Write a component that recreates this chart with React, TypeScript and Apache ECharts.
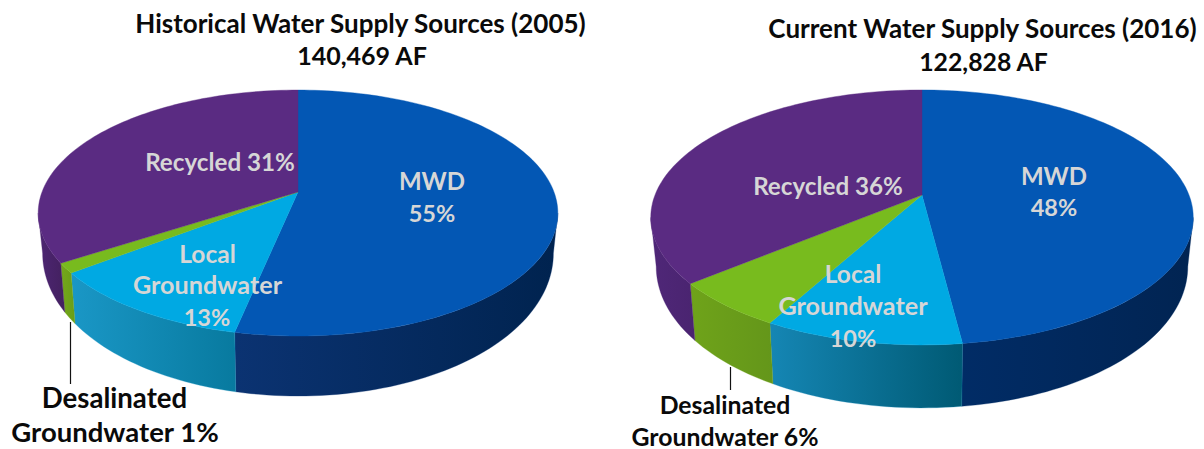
import React, { useEffect, useRef } from "react";
import * as echarts from "echarts";

// Data
const categories = ["MWD", "Local Groundwater", "Desalinated Groundwater", "Recycled"];
const labels2005 = [55, 13, 1, 31];
const labels2016 = [48, 10, 6, 36];
// Shares as the slices are actually drawn in the picture (percent of the circle, clockwise from 12 o'clock).
const drawn2005 = [53.3, 11.3, 1.3, 34.1];
const drawn2016 = [48, 10, 6, 36];
const title2005 = ["Historical Water Supply Sources (2005)", "140,469 AF"];
const title2016 = ["Current Water Supply Sources (2016)", "122,828 AF"];

// Styles
const topColors = ["#0357b4", "#00a9e3", "#78bb1e", "#5a2b82"];
const wallColors2005 = [["#0b3372", "#00234f"], ["#1a97c6", "#087a9f"], ["#74a81c", "#6a9e17"], ["#4d2673", "#43205f"]];
const wallColors2016 = [["#012c66", "#012452"], ["#1586b4", "#005a74"], ["#6fa31a", "#64961a"], ["#4f2778", "#4a2470"]];
const FONT = "Lato";

// Perspective geometry of each disc
const geo = [
  { cx: 298, apexY: 192, A: 256, B: 119.4, k: 0.171, d0: 36, d1: 24, s: 0.983, shares: drawn2005, walls: wallColors2005 },
  { cx: 922, apexY: 195, A: 267, B: 123.5, k: 0.176, d0: 46, d1: 17, s: 0.98, shares: drawn2016, walls: wallColors2016 },
];

function rim(g: any, deg: number) {
  const t = (deg * Math.PI) / 180;
  const u = Math.sin(t);
  const v = Math.cos(t);
  const w = 1 + g.k * v;
  return { x: g.cx + (g.A * u) / w, y: g.apexY - (g.B * v) / w, v, xo: (g.A * u) / w };
}
function ring(g: any, deg: number) {
  const p = rim(g, deg);
  return [g.cx + p.xo * g.s, p.y + g.d0 - g.d1 * p.v];
}
function arcDegs(a: number, b: number) {
  const out: number[] = [];
  const n = Math.max(2, Math.ceil((b - a) / 1.5));
  for (let i = 0; i <= n; i++) out.push(a + ((b - a) * i) / n);
  return out;
}
function sliceData(pie: number) {
  let acc = 0;
  const total = geo[pie].shares.reduce((s: number, x: number) => s + x, 0);
  return geo[pie].shares.map((x: number, i: number) => {
    const start = (acc / total) * 360;
    acc += x;
    return { value: [pie, i, start, (acc / total) * 360] };
  });
}
const allSlices = [...sliceData(0), ...sliceData(1)];

function renderTop(_p: any, api: any) {
  const g = geo[api.value(0)];
  const i = api.value(1);
  const pts = arcDegs(api.value(2), api.value(3)).map((d) => {
    const p = rim(g, d);
    return [p.x, p.y];
  });
  return {
    type: "polygon",
    shape: { points: [[g.cx, g.apexY], ...pts] },
    style: { fill: topColors[i], stroke: topColors[i], lineWidth: 0.4 },
  };
}
function renderWall(_p: any, api: any) {
  const g = geo[api.value(0)];
  const i = api.value(1);
  const limit = (Math.acos(-g.k) * 180) / Math.PI;
  const a = Math.max(api.value(2), limit);
  const b = Math.min(api.value(3), 360 - limit);
  if (b <= a) return null;
  const degs = arcDegs(a, b);
  const upper = degs.map((d) => {
    const p = rim(g, d);
    return [p.x, p.y];
  });
  const lower = degs.map((d) => ring(g, d)).reverse();
  const [c0, c1] = g.walls[i];
  return {
    type: "polygon",
    shape: { points: [...upper, ...lower] },
    style: {
      fill: new echarts.graphic.LinearGradient(0, 0, 1, 0, [
        { offset: 0, color: c0 },
        { offset: 1, color: c1 },
      ]),
      stroke: c0,
      lineWidth: 0.3,
    },
  };
}

function label(text: string, x: number, y: number, size: number, fill: string) {
  return {
    type: "text",
    x,
    y,
    silent: true,
    z: 10,
    style: { text, fill, font: `bold ${size}px ${FONT}`, textAlign: "center", textVerticalAlign: "middle" },
  };
}
const LIGHT = "#d6d6d6";
const BLACK = "#0a0a0a";

const texts = [
  label(title2005[0], 360.5, 23, 26, BLACK),
  label(title2005[1], 362, 55, 25, BLACK),
  label(title2016[0], 982.5, 28, 26, BLACK),
  label(title2016[1], 983.5, 61, 24.8, BLACK),
  label(`${categories[3]} ${labels2005[3]}%`, 220, 161, 24.2, LIGHT),
  label(categories[0], 432, 180, 24, LIGHT),
  label(`${labels2005[0]}%`, 432, 213, 23.5, LIGHT),
  label("Local", 207.5, 253, 24.5, LIGHT),
  label("Groundwater", 207.5, 284, 25.2, LIGHT),
  label(`${labels2005[1]}%`, 207, 317, 23.5, LIGHT),
  label(`${categories[3]} ${labels2016[3]}%`, 828, 185, 24.2, LIGHT),
  label(categories[0], 1054, 175, 24, LIGHT),
  label(`${labels2016[0]}%`, 1054, 207, 23.5, LIGHT),
  label("Local", 853, 273, 24.5, LIGHT),
  label("Groundwater", 853, 305, 25.2, LIGHT),
  label(`${labels2016[1]}%`, 853, 338, 23.5, LIGHT),
  label("Desalinated", 114.5, 397, 27.6, BLACK),
  label(`Groundwater ${labels2005[2]}%`, 115, 431, 27.5, BLACK),
  label("Desalinated", 725, 404, 24.8, BLACK),
  label(`Groundwater ${labels2016[2]}%`, 725, 436, 24.8, BLACK),
  {
    type: "line",
    silent: true,
    z: 9,
    shape: { x1: 70.5, y1: 322, x2: 70.5, y2: 384 },
    style: { stroke: "#111", lineWidth: 1.2 },
  },
  {
    type: "line",
    silent: true,
    z: 9,
    shape: { x1: 730.5, y1: 367, x2: 730.5, y2: 390 },
    style: { stroke: "#111", lineWidth: 1.2 },
  },
];

export default function App() {
  const ref = useRef<HTMLDivElement>(null);
  useEffect(() => {
    const chart = echarts.init(ref.current!, undefined, { renderer: "svg" });
    chart.setOption({
      animation: false,
      backgroundColor: "#ffffff",
      series: [
        { type: "custom", coordinateSystem: "none", z: 1, silent: true, renderItem: renderWall, data: allSlices },
        { type: "custom", coordinateSystem: "none", z: 2, silent: true, renderItem: renderTop, data: allSlices },
      ],
      graphic: { elements: texts },
    });
    return () => chart.dispose();
  }, []);
  return <div ref={ref} style={{ position: "fixed", left: 0, top: 0, width: 1204, height: 449 }} />;
}
